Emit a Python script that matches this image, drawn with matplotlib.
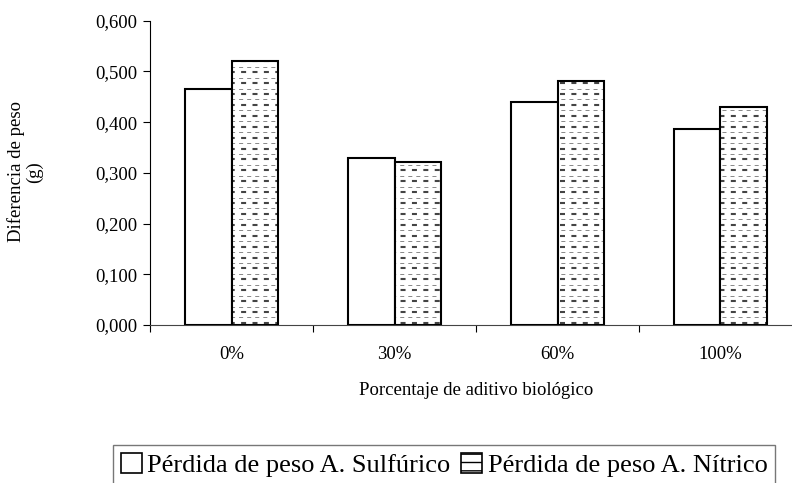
import numpy as np
import matplotlib
matplotlib.use("Agg")
from matplotlib import pyplot as plt
from matplotlib.patches import Patch

plt.rcParams['font.family'] = ['Liberation Serif', 'DejaVu Serif']
plt.rcParams['lines.scale_dashes'] = False

categorias = ['0%', '30%', '60%', '100%']
sulfurico = [0.465, 0.329, 0.440, 0.386]
nitrico = [0.521, 0.321, 0.482, 0.430]
yticks = [0.0, 0.1, 0.2, 0.3, 0.4, 0.5, 0.6]
serie_labels = ['Pérdida de peso A. Sulfúrico', 'Pérdida de peso A. Nítrico']

W, H = 792, 483
fig = plt.figure(figsize=(W / 100, H / 100), dpi=100)
ax = fig.add_axes([150 / W, 1 - 325 / H, 652 / W, 304.3 / H])

x = np.arange(len(categorias))
w = 0.288
bars_s = ax.bar(x - w / 2, sulfurico, w, color='white', edgecolor='black', linewidth=1.5, zorder=3)
bars_n = ax.bar(x + w / 2, nitrico, w, color='white', edgecolor='none', zorder=3)

# trama de guiones para la serie nitrico
filas = np.arange(0.004, 0.6, 0.0215)
for b in bars_n:
    for yy in filas:
        l1, = ax.plot([-0.5, 3.5], [yy, yy], color='#444444', lw=1.5,
                      dashes=(3.6, 4.6), zorder=3.2)
        l2, = ax.plot([-0.5, 3.5], [yy + 0.0108, yy + 0.0108], color='#888888', lw=0.7,
                      dashes=(2.9, 2.9), zorder=3.2)
        l1.set_clip_path(b)
        l2.set_clip_path(b)
# contorno encima de la trama
ax.bar(x + w / 2, nitrico, w, fill=False, edgecolor='black', linewidth=1.5, zorder=3.5)

ax.set_xlim(-0.5, 3.5)
ax.set_ylim(0, 0.6)
ax.set_yticks(yticks)
ax.set_yticklabels([f'{v:.3f}'.replace('.', ',') for v in yticks], fontsize=13.5)
ax.set_xticks(np.arange(-0.5, 4, 1))
ax.set_xticklabels([])
ax.set_xticks(x, minor=True)
ax.set_xticklabels(categorias, minor=True, fontsize=13.5)
ax.tick_params(axis='x', which='minor', length=0, pad=15)
ax.tick_params(axis='both', which='major', length=5, width=0.8, direction='out')
ax.tick_params(axis='y', pad=4)
ax.spines['top'].set_visible(False)
ax.spines['right'].set_visible(False)
ax.spines['bottom'].set_color('#444444')

ax.set_xlabel('Porcentaje de aditivo biológico', fontsize=13.5, labelpad=14)
fig.text(25 / W, 1 - 172 / H, 'Diferencia de peso\n(g)', rotation=90,
         ha='center', va='center', fontsize=13.5, multialignment='center',
         linespacing=1.1)

handles = [Patch(facecolor='white', edgecolor='black', linewidth=1.2),
           Patch(facecolor='white', edgecolor='black', linewidth=1.2, hatch='--')]
leg = fig.legend(handles, serie_labels, loc='upper left', ncol=2,
                 bbox_to_anchor=(113 / W, 1 - 445 / H), borderaxespad=0,
                 fontsize=19, handlelength=0.8, handleheight=0.8,
                 handletextpad=0.2, columnspacing=0.4, fancybox=False,
                 borderpad=0.3)
leg.get_frame().set_edgecolor('#555555')
leg.get_frame().set_linewidth(1.0)

fig.savefig('out.png', dpi=100)
